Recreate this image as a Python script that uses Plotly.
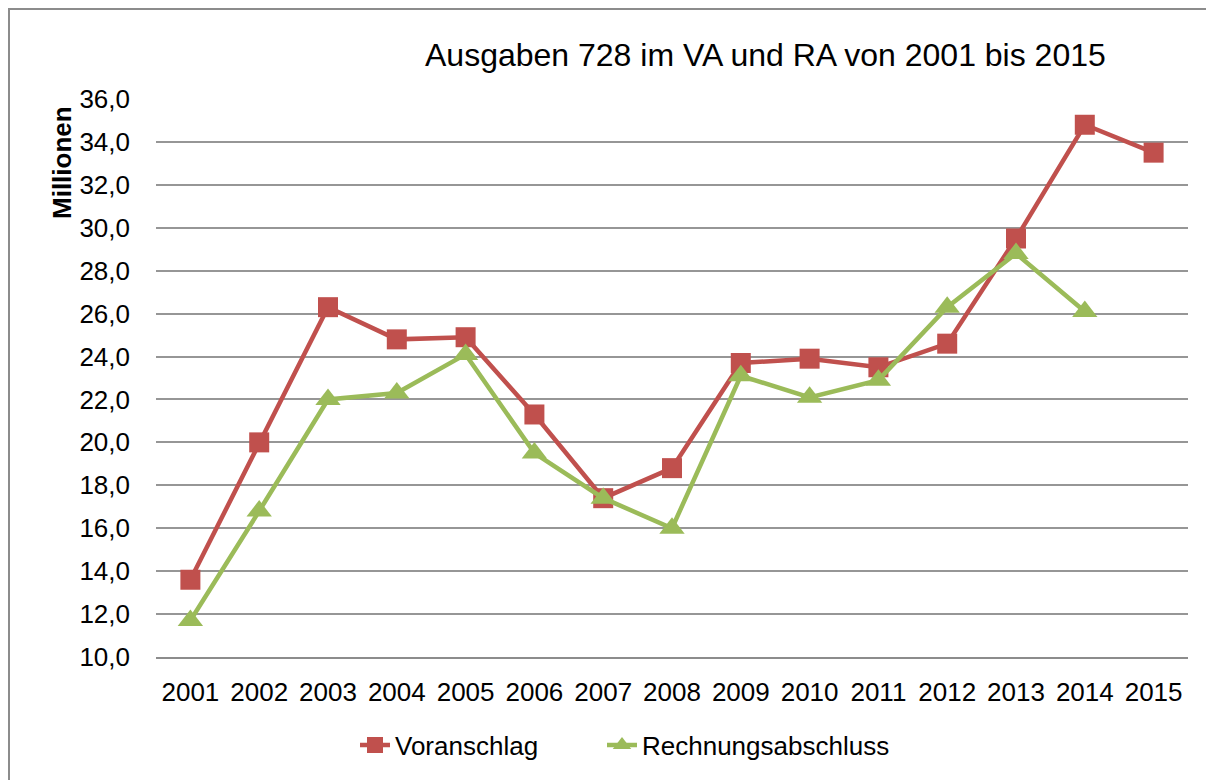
import plotly.graph_objects as go

years = [str(y) for y in range(2001, 2016)]
voranschlag = [13.6, 20.0, 26.3, 24.8, 24.9, 21.3, 17.4, 18.8, 23.7, 23.9, 23.5, 24.6, 29.5, 34.8, 33.5]
rechnungsabschluss = [11.7, 16.8, 22.0, 22.3, 24.1, 19.5, 17.4, 16.0, 23.1, 22.1, 22.9, 26.3, 28.8, 26.1, None]

RED = "#C0504D"
GREEN = "#9BBB59"
FONT = "Liberation Sans, Arial, sans-serif"

fig = go.Figure()
fig.add_trace(go.Scatter(
    x=years, y=voranschlag, name="Voranschlag", mode="lines+markers",
    line=dict(color=RED, width=4.5),
    marker=dict(symbol="square", size=20, color=RED),
    legend="legend",
))
fig.add_trace(go.Scatter(
    x=years, y=rechnungsabschluss, name="Rechnungsabschluss", mode="lines+markers",
    line=dict(color=GREEN, width=4.5),
    marker=dict(symbol="triangle-up", size=22, color=GREEN),
    legend="legend2",
))

# page body has an 8px margin; figure coordinates = screen - 8
OFF = 8
W, H = 1206, 772
L, R, T, B = 156 - OFF, W - (1188 - OFF), 99 - OFF, H - (657 - OFF)
pw, ph = W - L - R, H - T - B

def px(x):
    return (x - OFF - L) / pw

def py(y):
    return (H - B - (y - OFF)) / ph

leg_common = dict(orientation="h", xanchor="left", y=py(745), yanchor="middle",
                  font=dict(size=26), bgcolor="rgba(0,0,0,0)")

fig.update_layout(
    width=W, height=H,
    margin=dict(l=L, r=R, t=T, b=B),
    paper_bgcolor="white", plot_bgcolor="white",
    separators=",.",
    font=dict(family=FONT, size=26, color="black"),
    showlegend=True,
    legend=dict(x=px(355), **leg_common),
    legend2=dict(x=px(602), **leg_common),
    xaxis=dict(type="category", range=[-0.5, 14.5], showgrid=False, showline=True,
               linecolor="#8C8C8C", linewidth=1.5, ticks="", tickfont=dict(size=26),
               ticklabelstandoff=11, fixedrange=True),
    yaxis=dict(range=[10, 36], dtick=2, tick0=10, tickformat=".1f", showgrid=True,
               gridcolor="#969696", gridwidth=1.5, showline=False, zeroline=False,
               ticks="", tickfont=dict(size=26), ticklabelstandoff=25, fixedrange=True),
    annotations=[
        dict(text="Ausgaben 728 im VA und RA von 2001 bis 2015", xref="paper", yref="paper",
             x=px(765), y=py(55), xanchor="center", yanchor="middle", showarrow=False,
             font=dict(size=32, family=FONT, color="black")),
        dict(text="<b>Millionen</b>", xref="paper", yref="paper", textangle=-90,
             x=px(62), y=py(163), xanchor="center", yanchor="middle", showarrow=False,
             font=dict(size=26, family=FONT, color="black")),
    ],
    shapes=[dict(type="rect", xref="paper", yref="paper",
                 x0=px(9), x1=px(1240), y0=py(820), y1=py(9),
                 line=dict(color="#8C8C8C", width=2), layer="below")],
)

fig.write_html("out.html")
